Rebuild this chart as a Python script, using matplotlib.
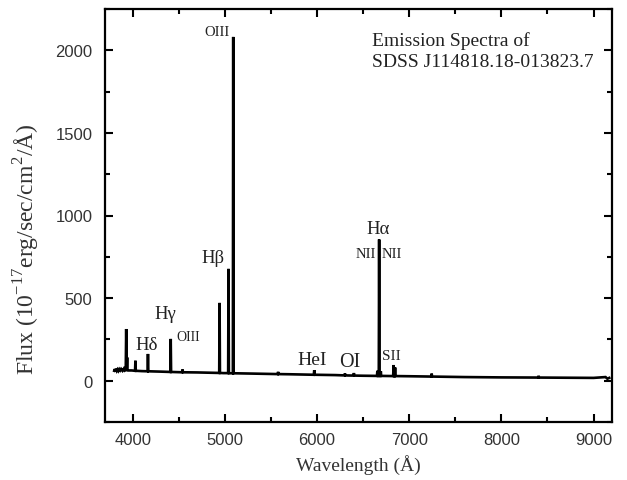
import matplotlib
matplotlib.use("Agg")
import matplotlib.pyplot as plt
from matplotlib.ticker import MultipleLocator

# Spectrum (wavelength in Angstrom, flux in 1e-17 erg/s/cm^2/A)
wave = [3800, 3806, 3812, 3820, 3828, 3836, 3845, 3855, 3865, 3875, 3890,
        3905, 3915, 3925, 3930, 3935, 3940, 3944, 3948, 3990,
        4026, 4030, 4034, 4100, 4162, 4166, 4170, 4300, 4409, 4413, 4417,
        4536, 4541, 4546, 4700, 4939, 4943, 4947, 4985, 5036, 5040, 5044,
        5065, 5087, 5091, 5095, 5300, 5575, 5578, 5581, 5700, 5965, 5970,
        5975, 6200, 6300, 6303, 6306, 6395, 6400, 6405, 6500, 6650, 6655,
        6660, 6670, 6674, 6678, 6688, 6692, 6696, 6826, 6831, 6836, 6843,
        6847, 6851, 7000, 7240, 7244, 7248, 7600, 8000, 8400, 8404, 8408,
        8700, 9000, 9130, 9150, 9170]
flux = [60, 70, 58, 72, 60, 68, 59, 70, 62, 71, 60,
        73, 61, 64, 313, 66, 141, 63, 62, 62,
        60, 121, 60, 58, 57, 162, 57, 55, 53, 253, 53,
        51, 68, 51, 50, 47, 471, 47, 46, 46, 677, 46,
        45, 45, 2081, 45, 43, 40, 54, 40, 39, 36, 64,
        36, 34, 32, 44, 32, 31, 46, 31, 30, 29, 60,
        29, 29, 855, 29, 29, 57, 29, 28, 95, 28, 28,
        80, 28, 27, 25, 43, 25, 22, 20, 19, 30, 19,
        18, 17, 22, 12, 17]

# Line identifications: label, wavelength, flux position, font size
labels = ["OIII", "H\u03b2", "H\u03b3", "H\u03b4", "OIII", "HeI", "OI",
          "H\u03b1", "NII", "NII", "SII"]
label_wave = [4914, 4871, 4355, 4150, 4600, 5946, 6355, 6667, 6527, 6806, 6806]
label_flux = [2113, 748, 408, 222, 270, 131, 118, 919, 773, 773, 150]
label_size = [10.5, 13.5, 13.5, 13.5, 10, 14, 14.5, 13.5, 10.5, 10.5, 11]

plt.rcParams['font.family'] = ['Liberation Serif', 'DejaVu Serif']
fig = plt.figure(figsize=(6.27, 4.81), dpi=100)
ax = fig.add_axes([105/627, 1 - 423/481, (612-105)/627, (423-10)/481])

ax.plot(wave, flux, color='black', lw=1.9, solid_joinstyle='miter')

for t, x, y, s in zip(labels, label_wave, label_flux, label_size):
    ax.text(x, y, t, ha='center', va='center', fontsize=s, color='#222222')

ax.text(0.527, 0.946, "Emission Spectra of\nSDSS J114818.18-013823.7",
        transform=ax.transAxes, ha='left', va='top', fontsize=14,
        linespacing=1.3, color='#222222')

ax.set_xlim(3700, 9200)
ax.set_ylim(-250, 2250)
ax.xaxis.set_major_locator(MultipleLocator(1000))
ax.xaxis.set_minor_locator(MultipleLocator(500))
ax.yaxis.set_major_locator(MultipleLocator(500))
ax.yaxis.set_minor_locator(MultipleLocator(250))
ax.tick_params(which='both', direction='in', top=True, right=True, width=1.5,
               labelsize=12)
ax.tick_params(axis='y', pad=9)
ax.tick_params(axis='x', pad=7.5)
ax.tick_params(which='major', length=6)
ax.tick_params(which='minor', length=3.5)
for lab in ax.get_xticklabels() + ax.get_yticklabels():
    lab.set_family(['Liberation Sans', 'DejaVu Sans'])
    lab.set_color('#333333')
for sp in ax.spines.values():
    sp.set_linewidth(1.6)

ax.set_xlabel("Wavelength (\u00c5)", fontsize=14, color='#333333', labelpad=5)
ax.set_ylabel("Flux (10$^{\\mathregular{-17}}$erg/sec/cm$^{\\mathregular{2}}$/\u00c5)",
              fontsize=17, color='#333333')
ax.yaxis.set_label_coords(-0.125, 0.42)

fig.savefig("out.png", dpi=100)
